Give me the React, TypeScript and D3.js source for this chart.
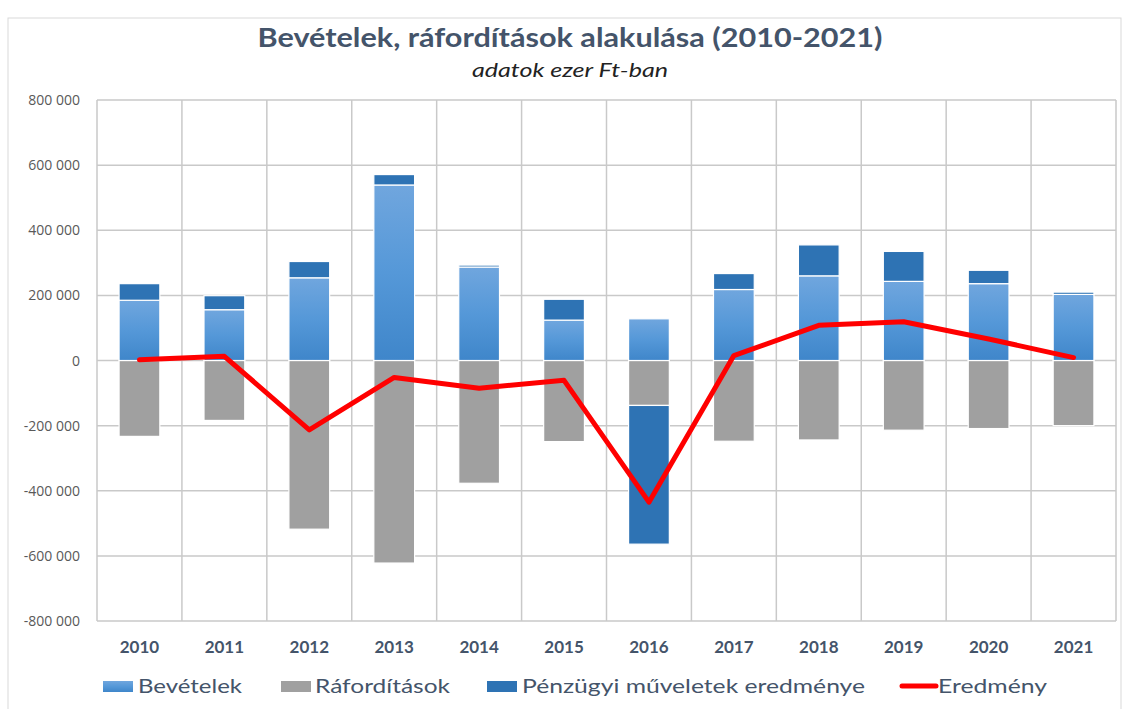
import React from "react";
import * as d3 from "d3";

const years = ["2010","2011","2012","2013","2014","2015","2016","2017","2018","2019","2020","2021"];
const bevetelek = [185000,156000,254000,539000,287000,124000,128000,218000,260000,243000,236000,203000];
const raforditasok = [-233000,-184000,-518000,-622000,-377000,-249000,-138000,-248000,-244000,-214000,-209000,-200000];
const penzugyi = [51000,43000,50000,32000,6000,64000,-426000,49000,95000,92000,41000,7000];
const eredmeny = [2000,13000,-213000,-52000,-85000,-61000,-435000,15000,108000,119000,66000,9000];
const yTicks = [800000,600000,400000,200000,0,-200000,-400000,-600000,-800000];

const W = 1124, H = 709;
const left = 97, right = 1116, top = 100, bottom = 621;

export default function App() {
  const x = d3.scaleBand<string>().domain(years).range([left, right]).paddingInner(0.52).paddingOuter(0.26);
  const xb = d3.scaleBand<string>().domain(years).range([left, right]).padding(0);
  const y = d3.scaleLinear().domain([-800000, 800000]).range([bottom, top]);
  const fmt = (v: number) => {
    const s = d3.format(",")(Math.abs(v)).replace(/,/g, " ");
    return (v < 0 ? "-" : "") + s;
  };
  const line = d3.line<number>().x((_, i) => xb(years[i])! + xb.bandwidth() / 2).y(d => y(d));

  const bars: JSX.Element[] = [];
  years.forEach((yr, i) => {
    const bx = x(yr)!;
    const bw = x.bandwidth();
    // Ráfordítások (negative)
    const r0 = y(0), r1 = y(raforditasok[i]);
    bars.push(<rect key={"r" + i} x={bx} y={r0} width={bw} height={r1 - r0} fill="#a0a0a0" stroke="#ffffff" strokeWidth={1.2} />);
    // Bevételek (positive)
    const b1 = y(bevetelek[i]);
    bars.push(<rect key={"b" + i} x={bx} y={b1} width={bw} height={y(0) - b1} fill="url(#bevGrad)" stroke="#ffffff" strokeWidth={1.2} />);
    // Pénzügyi: stack on positive or negative side
    const p = penzugyi[i];
    if (p >= 0) {
      const s0 = bevetelek[i], s1 = bevetelek[i] + p;
      bars.push(<rect key={"p" + i} x={bx} y={y(s1)} width={bw} height={y(s0) - y(s1)} fill="#2e73b4" stroke="#ffffff" strokeWidth={1.2} />);
    } else {
      const s0 = raforditasok[i], s1 = raforditasok[i] + p;
      bars.push(<rect key={"p" + i} x={bx} y={y(s0)} width={bw} height={y(s1) - y(s0)} fill="#2e73b4" stroke="#ffffff" strokeWidth={1.2} />);
    }
  });

  const font = "Lato, 'Open Sans', sans-serif";
  const slate = "#44546A";

  const legend = [
    { label: "Bevételek", sx: 103, tx: 138, tl: 104, kind: "bev" },
    { label: "Ráfordítások", sx: 281, tx: 315, tl: 135, kind: "raf" },
    { label: "Pénzügyi műveletek eredménye", sx: 487, tx: 522, tl: 343, kind: "pen" },
    { label: "Eredmény", sx: 902, tx: 938, tl: 109, kind: "ered" },
  ];

  return (
    <svg width={W} height={H} style={{ position: "absolute", left: 0, top: 0, background: "#ffffff" }} fontFamily={font}>
      <defs>
        <linearGradient id="bevGrad" x1="0" y1="0" x2="0" y2="1">
          <stop offset="0%" stopColor="#70a6de" />
          <stop offset="50%" stopColor="#5598d8" />
          <stop offset="100%" stopColor="#3f86ca" />
        </linearGradient>
      </defs>
      <rect x={0} y={0} width={W} height={H} fill="#ffffff" />
      <rect x={8} y={18} width={1113} height={700} fill="none" stroke="#d9d9d9" strokeWidth={1} />
      <text x={570} y={47} textAnchor="middle" fontSize={27} fontWeight="bold" fill={slate} textLength={625} lengthAdjust="spacingAndGlyphs">Bevételek, ráfordítások alakulása (2010-2021)</text>
      <text x={570} y={77} textAnchor="middle" fontSize={19} fontStyle="italic" fill="#222" textLength={196} lengthAdjust="spacingAndGlyphs">adatok ezer Ft-ban</text>

      {/* gridlines */}
      {yTicks.map(t => (
        <line key={"h" + t} x1={left} x2={right} y1={y(t)} y2={y(t)} stroke="#c9c9c9" strokeWidth={1.5} />
      ))}
      {years.map(yr => (
        <line key={"v" + yr} x1={xb(yr)!} x2={xb(yr)!} y1={top} y2={bottom} stroke="#c9c9c9" strokeWidth={1.5} />
      ))}
      <line x1={right} x2={right} y1={top} y2={bottom} stroke="#c9c9c9" strokeWidth={1.5} />

      {/* y labels */}
      {yTicks.map(t => (
        <text key={"yl" + t} x={80} y={y(t) + 5} textAnchor="end" fontSize={14} fill="#595959" fontFamily="'Open Sans', sans-serif">{fmt(t)}</text>
      ))}

      {bars}

      <path d={line(eredmeny) || ""} fill="none" stroke="#ff0000" strokeWidth={5} strokeLinejoin="round" strokeLinecap="round" />

      {/* x labels */}
      {years.map(yr => (
        <text key={"xl" + yr} x={xb(yr)! + xb.bandwidth() / 2} y={653} textAnchor="middle" fontSize={17} fontWeight="bold" fill={slate}>{yr}</text>
      ))}

      {/* legend */}
      {legend.map(l => (
        <g key={l.label}>
          {l.kind === "ered" ? (
            <line x1={l.sx} x2={l.sx + 34} y1={686} y2={686} stroke="#ff0000" strokeWidth={5} strokeLinecap="round" />
          ) : (
            <rect x={l.sx} y={681} width={30} height={11} fill={l.kind === "bev" ? "url(#bevGrad)" : l.kind === "raf" ? "#a0a0a0" : "#2e73b4"} />
          )}
          <text x={l.tx} y={693} fontSize={20} fill={slate} textLength={l.tl} lengthAdjust="spacingAndGlyphs">{l.label}</text>
        </g>
      ))}
    </svg>
  );
}
